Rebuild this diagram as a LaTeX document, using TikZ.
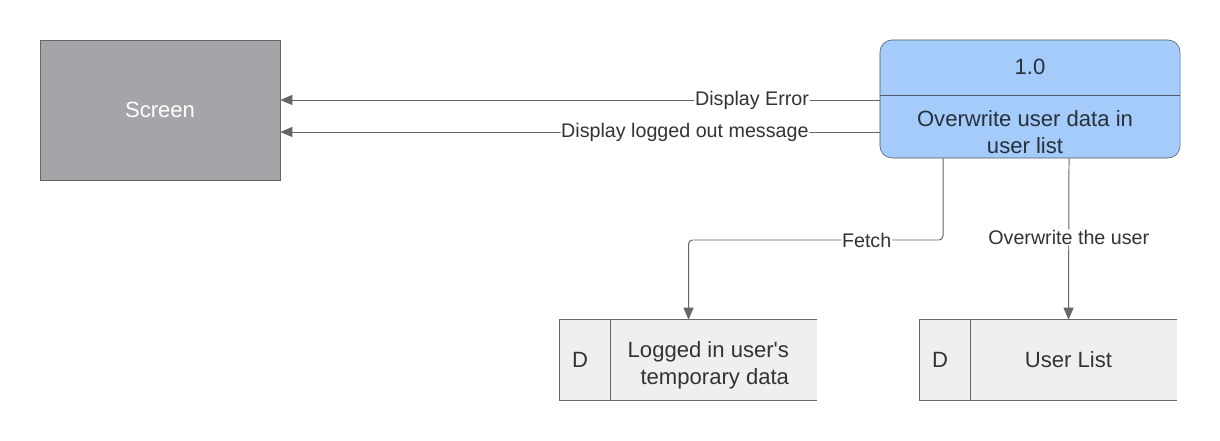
\documentclass[tikz,border=0pt]{standalone}
\usepackage{fontspec}
\setmainfont{Liberation Sans}
\usepackage{xcolor}
\usetikzlibrary{arrows.meta, positioning, calc}

\definecolor{linegray}{HTML}{666666}
\definecolor{screengray}{HTML}{A5A5A9}
\definecolor{procblue}{HTML}{A4CBF9}
\definecolor{procedge}{HTML}{4F5B66}
\definecolor{storegray}{HTML}{EEEFEE}
\definecolor{textdark}{HTML}{333333}
\definecolor{proctextcol}{HTML}{27313B}

\begin{document}
\begin{tikzpicture}[
    x=0.025cm, y=0.025cm,
    entity/.style={rectangle, draw=linegray, fill=screengray, minimum width=6cm, minimum height=3.5cm, text=white, font=\fontsize{15.7}{19}\selectfont},
    process/.style={rectangle, draw=procedge, fill=procblue, rounded corners=0.3cm, minimum width=7.5cm, minimum height=2.95cm},
    proctext/.style={align=center, text=proctextcol, font=\fontsize{15.7}{19}\selectfont},
    store/.style={rectangle, fill=storegray, minimum width=6.425cm, minimum height=2cm},
    storetext/.style={align=center, text=textdark, font=\fontsize{15.7}{19}\selectfont},
    flowlabel/.style={fill=white, inner sep=0.5pt, text=textdark, font=\fontsize{14}{17}\selectfont},
    flow/.style={-{Triangle[length=0.3cm, width=0.25cm]}, draw=linegray, line width=0.7pt, rounded corners=0.1cm}
]
\useasboundingbox (0,0) rectangle (1220,440);

% External entity
\node[entity] (screen) at (160,330) {Screen};

% Process
\node[process] (proc) at (1030,341) {};
\coordinate (procsplit) at (1030,345);
\draw[procedge, line width=0.6pt] (proc.west |- procsplit) -- (proc.east |- procsplit);
\node[proctext] (procid) at (1030,373) {1.0};
\node[proctext] (procname) at (1025,308) {Overwrite user data in\\user list};

% Data stores
\node[store] (tempstore) at (688.5,80) {};
\node[store] (userstore) at (1048.5,80) {};
\foreach \s in {tempstore, userstore} {
  \draw[linegray, line width=0.6pt] (\s.north east) -- (\s.north west) -- (\s.south west) -- (\s.south east);
  \draw[linegray, line width=0.6pt] ([xshift=1.275cm]\s.north west) -- ([xshift=1.275cm]\s.south west);
}
\node[storetext] (tempid) at (580,80) {D};
\node[storetext, align=right, anchor=east] (tempname) at (794,75) {Logged in user\textquotesingle s\\temporary data};
\node[storetext] (userid) at (940,80) {D};
\node[storetext] (username) at (1068.5,80) {User List};

% Connectors
\draw[flow] (proc.west |- 0,340) -- (screen.east |- 0,340)
  node[flowlabel, pos=0.213] {Display Error};
\draw[flow] (proc.west |- 0,308) -- (screen.east |- 0,308)
  node[flowlabel, pos=0.325] {Display logged out message};

\coordinate (fetchbend) at (943,200);
\draw[flow] (proc.south -| fetchbend) -- (fetchbend) -- (tempstore.north |- fetchbend)
  node[flowlabel, pos=0.3] {Fetch} -- (tempstore.north);

\draw[flow] ([xshift=0.975cm]proc.south) -- ([xshift=0.5cm]userstore.north)
  node[flowlabel, pos=0.49] {Overwrite the user};

\end{tikzpicture}
\end{document}
